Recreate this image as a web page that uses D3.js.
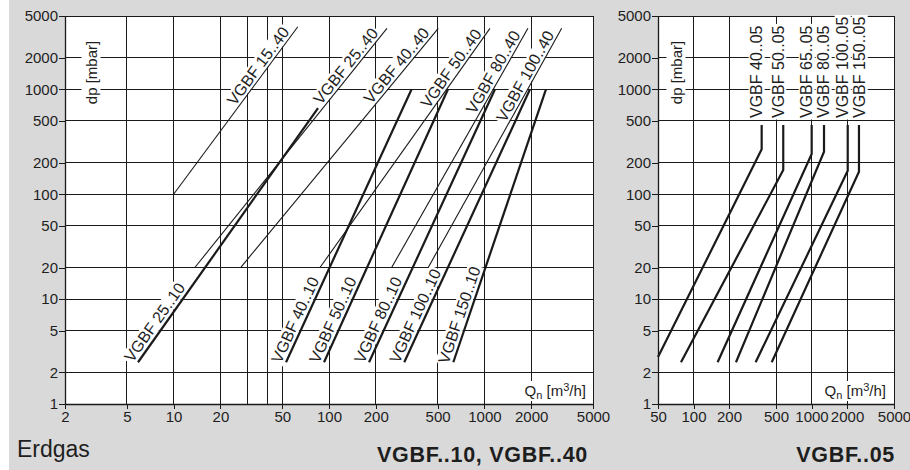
<!DOCTYPE html>
<html><head><meta charset="utf-8">
<script src="https://cdn.jsdelivr.net/npm/d3@7"></script>
<style>
body{margin:0;background:#fff}
svg{display:block}
text{font-family:"Liberation Sans",Arial,Helvetica,sans-serif;fill:#1e1e1e}
</style>
</head><body>
<svg id="c" width="910" height="470"></svg>
<script>
// ---------- data ----------
const yTicks = [1, 2, 5, 10, 20, 50, 100, 200, 500, 1000, 2000, 5000];
const xTicksLeft = [2, 5, 10, 20, 50, 100, 200, 500, 1000, 2000, 5000];
const xGridLeft = [2, 5, 10, 20, 30, 40, 50, 100, 200, 500, 1000, 2000, 5000];
const xTicksRight = [50, 100, 200, 500, 1000, 2000, 5000];

// VGBF..40 (thin lines): [Qn, dp] start -> end
const names40 = ["VGBF 15..40", "VGBF 25..40", "VGBF 40..40", "VGBF 50..40", "VGBF 80..40", "VGBF 100..40"];
const series40 = [
  [[10, 100], [63, 3950]],
  [[13.7, 20], [236, 3815]],
  [[27, 20], [505, 3815]],
  [[87.5, 20], [1086, 3815]],
  [[253, 20], [1907, 3815]],
  [[435, 20], [3144, 3815]]
];
// VGBF..10 (thick lines)
const names10 = ["VGBF 25..10", "VGBF 40..10", "VGBF 50..10", "VGBF 80..10", "VGBF 100..10", "VGBF 150..10"];
const series10 = [
  [[5.9, 2.5], [85, 663]],
  [[52.9, 2.5], [340, 1000]],
  [[92.9, 2.5], [583, 1000]],
  [[181, 2.5], [1170, 1000]],
  [[305, 2.5], [1965, 1000]],
  [[631, 2.5], [2490, 1000]]
];
// VGBF..05 (right chart)
const names05 = ["VGBF 40..05", "VGBF 50..05", "VGBF 65..05", "VGBF 80..05", "VGBF 100..05", "VGBF 150..05"];
const series05 = [
  [[50, 2.8], [378, 268], [378, 457]],
  [[78.3, 2.5], [576, 170], [576, 457]],
  [[160, 2.5], [1003, 242], [1003, 457]],
  [[229, 2.5], [1276, 254], [1276, 457]],
  [[336, 2.5], [2027, 167], [2027, 457]],
  [[460, 2.5], [2524, 164], [2524, 457]]
];

// ---------- drawing ----------
const W = 910, H = 470;
const svg = d3.select("#c");
const y = d3.scaleLog().domain([1, 5000]).range([404, 16]);
const xL = d3.scaleLog().domain([2, 5000]).range([65, 593]);
const xR = d3.scaleLog().domain([50, 5000]).range([658, 894]);
const INK = "#1a1a1a";
const LABEL_FS = 16;

svg.append("rect").attr("x", 9).attr("y", 0).attr("width", W - 9).attr("height", H).attr("fill", "#d9d9d9");

const layers = {};
["plot", "grid", "axis", "halo", "lines", "text"].forEach(k => layers[k] = svg.append("g"));

function label(txt, px, py, ang, anchor, ax, by, fs, pad) {
  pad = pad || 2;
  const tf = `translate(${px},${py}) rotate(${ang})`;
  const tg = layers.text.append("g").attr("transform", tf);
  const t = tg.append("text").attr("x", ax).attr("y", by).attr("text-anchor", anchor)
    .attr("font-size", fs).text(txt);
  const b = t.node().getBBox();
  layers.halo.append("rect").attr("transform", tf)
    .attr("x", b.x - pad).attr("y", b.y + 2 - pad).attr("width", b.width + 2 * pad)
    .attr("height", b.height - 4 + 2 * pad).attr("fill", "#fff");
  return t;
}

function panel(x, xTicks, xGrid) {
  const [x0, x1] = x.range();
  const [y0, y1] = y.range();
  layers.plot.append("rect").attr("x", x0).attr("y", y1).attr("width", x1 - x0).attr("height", y0 - y1).attr("fill", "#fff");
  const grid = layers.grid.append("g").attr("stroke", INK).attr("stroke-width", 1).attr("shape-rendering", "crispEdges");
  grid.selectAll("line.h").data(yTicks).join("line").attr("class", "h")
    .attr("x1", x0).attr("x2", x1).attr("y1", d => y(d)).attr("y2", d => y(d));
  grid.selectAll("line.v").data(xGrid).join("line").attr("class", "v")
    .attr("y1", y0).attr("y2", y1).attr("x1", d => x(d)).attr("x2", d => x(d));

  const ya = layers.axis.append("g").attr("transform", `translate(${x0},0)`)
    .call(d3.axisLeft(y).tickValues(yTicks).tickFormat(d => d).tickSize(6).tickSizeOuter(0).tickPadding(1));
  const xa = layers.axis.append("g").attr("transform", `translate(0,${y0})`)
    .call(d3.axisBottom(x).tickValues(xTicks).tickFormat(d => d).tickSize(5).tickSizeOuter(0).tickPadding(2));
  [ya, xa].forEach(a => {
    a.attr("font-size", 15).attr("font-family", null);
    a.select(".domain").attr("stroke", INK).attr("stroke-width", 1.3);
    a.selectAll(".tick line").attr("stroke", INK).attr("shape-rendering", "crispEdges");
    a.selectAll(".tick text").attr("fill", INK);
  });
}

panel(xL, xTicksLeft, xGridLeft);
panel(xR, xTicksRight, xTicksRight);

// dp [mbar] labels
label("dp [mbar]", 96.5, 72.5, -90, "middle", 0, 0, 15, 3);
label("dp [mbar]", 681.5, 72.5, -90, "middle", 0, 0, 15, 3);

// Qn [m3/h] labels
function qLabel(xEnd) {
  const tf = `translate(${xEnd},396)`;
  const tg = layers.text.append("g").attr("transform", tf);
  const t = tg.append("text").attr("text-anchor", "end").attr("font-size", 15);
  t.append("tspan").text("Q");
  t.append("tspan").attr("font-size", 11).attr("dy", 3).text("n");
  t.append("tspan").attr("dy", -3).text(" [m");
  t.append("tspan").attr("font-size", 11).attr("dy", -5).text("3");
  t.append("tspan").attr("dy", 5).text("/h]");
  const b = t.node().getBBox();
  layers.halo.append("rect").attr("transform", tf).attr("x", b.x - 3).attr("y", b.y)
    .attr("width", b.width + 6).attr("height", b.height).attr("fill", "#fff");
}
qLabel(586);
qLabel(886);

const line = x => d3.line().x(d => x(d[0])).y(d => y(d[1]));

// thin ..40 lines
series40.forEach((s, i) => {
  layers.lines.append("path").attr("d", line(xL)(s)).attr("fill", "none").attr("stroke", INK).attr("stroke-width", 1.1);
  const p0 = [xL(s[0][0]), y(s[0][1])], p1 = [xL(s[1][0]), y(s[1][1])];
  const ang = Math.atan2(p1[1] - p0[1], p1[0] - p0[0]) * 180 / Math.PI;
  label(names40[i], p1[0], p1[1], ang, "end", -9, -3, LABEL_FS, 1.5);
});
// thick ..10 lines
series10.forEach((s, i) => {
  layers.lines.append("path").attr("d", line(xL)(s)).attr("fill", "none").attr("stroke", INK).attr("stroke-width", 2.2);
  const p0 = [xL(s[0][0]), y(s[0][1])], p1 = [xL(s[1][0]), y(s[1][1])];
  const ang = Math.atan2(p1[1] - p0[1], p1[0] - p0[0]) * 180 / Math.PI;
  label(names10[i], p0[0], p0[1], ang, "start", -4, -4, LABEL_FS, 1.5);
});
// ..05 lines, labels stacked left-to-right without overlapping
let prevBase = -Infinity;
series05.forEach((s, i) => {
  layers.lines.append("path").attr("d", line(xR)(s)).attr("fill", "none").attr("stroke", INK).attr("stroke-width", 2.2);
  const top = s[s.length - 1];
  const base = Math.max(xR(top[0]) + 0.5, prevBase + 17);
  prevBase = base;
  label(names05[i], base, 118, -90, "start", 0, 0, LABEL_FS, 1.5);
});

// titles
svg.append("text").attr("x", 17).attr("y", 457).attr("font-size", 23).text("Erdgas");
svg.append("text").attr("x", 588).attr("y", 462).attr("font-size", 21.5).attr("font-weight", "bold")
  .attr("text-anchor", "end").attr("letter-spacing", 0.7).text("VGBF..10, VGBF..40");
svg.append("text").attr("x", 895).attr("y", 462).attr("font-size", 21.5).attr("font-weight", "bold")
  .attr("text-anchor", "end").attr("letter-spacing", 0.7).text("VGBF..05");
</script>
</body></html>
